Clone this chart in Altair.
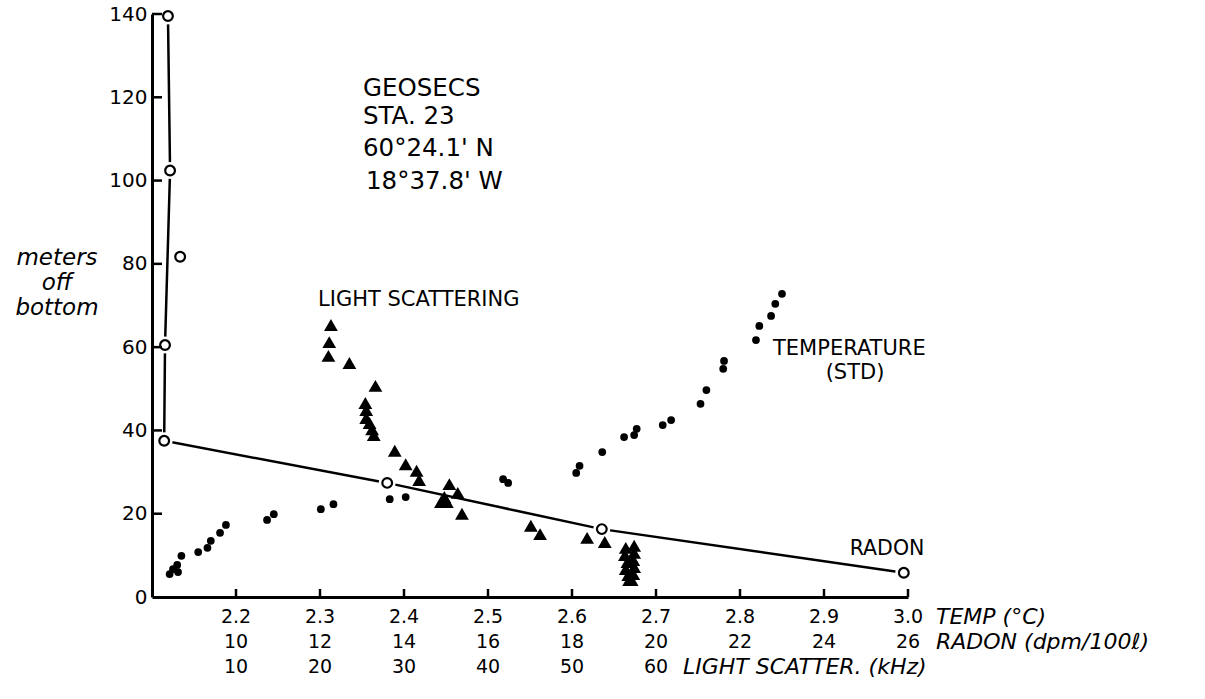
import altair as alt
import pandas as pd

# Temperature (STD) profile: degrees C against metres off bottom
temp_c = [2.121, 2.125, 2.130, 2.131, 2.135, 2.155, 2.166, 2.170, 2.181, 2.188,
          2.237, 2.245, 2.301, 2.316, 2.383, 2.402, 2.518, 2.524, 2.605, 2.609,
          2.636, 2.662, 2.674, 2.677, 2.708, 2.718, 2.753, 2.760, 2.780, 2.781,
          2.819, 2.823, 2.837, 2.842, 2.850]
temp_m = [5.5, 6.7, 7.7, 6.0, 9.9, 10.8, 11.8, 13.5, 15.4, 17.3,
          18.5, 19.9, 21.1, 22.3, 23.5, 24.0, 28.3, 27.4, 29.8, 31.5,
          34.8, 38.4, 38.9, 40.4, 41.3, 42.5, 46.4, 49.7, 54.8, 56.7,
          61.7, 65.1, 67.5, 70.4, 72.8]

# Light scattering profile: kHz against metres off bottom
light_khz = [21.3, 21.1, 21.0, 23.5, 26.6, 25.4, 25.5, 25.5, 25.9, 26.2,
             26.4, 28.9, 30.2, 31.5, 31.8, 35.4, 36.4, 34.4, 35.1, 34.8,
             36.9, 45.1, 46.2, 51.8, 53.9,
             56.4, 57.4, 56.3, 57.4, 56.6, 57.3, 56.4, 57.4, 56.7, 57.3, 56.8, 57.1]
light_m = [65.3, 61.2, 57.9, 56.2, 50.7, 46.6, 44.9, 43.0, 41.8, 40.3,
           38.9, 35.1, 31.9, 30.3, 28.1, 27.1, 25.0, 22.8, 22.8, 24.0,
           20.0, 17.1, 15.1, 14.2, 13.2,
           11.8, 12.3, 10.1, 10.6, 8.4, 8.9, 6.7, 7.2, 5.3, 5.5, 4.1, 4.1]

# Radon samples: dpm/100 l against metres off bottom
radon_dpm = [8.38, 8.43, 8.67, 8.31, 8.29, 13.60, 18.71, 25.90]
radon_m = [139.5, 102.4, 81.7, 60.5, 37.5, 27.4, 16.3, 5.8]

# Radon profile curve (passes inside the 80 m sample)
curve_dpm = [8.38, 8.43, 8.31, 8.29, 13.60, 18.71, 25.90]
curve_m = [139.5, 102.4, 60.5, 37.5, 27.4, 16.3, 5.8]

# Axis tick values and labels
depth_ticks = [0, 20, 40, 60, 80, 100, 120, 140]
temp_ticks = [2.2, 2.3, 2.4, 2.5, 2.6, 2.7, 2.8, 2.9, 3.0]
temp_labels = ["2.2", "2.3", "2.4", "2.5", "2.6", "2.7", "2.8", "2.9", "3.0"]
radon_ticks = [10, 12, 14, 16, 18, 20, 22, 24, 26]
radon_labels = ["10", "12", "14", "16", "18", "20", "22", "24", "26"]
light_ticks = [10, 20, 30, 40, 50, 60]
light_labels = ["10", "20", "30", "40", "50", "60"]

FONT = "DejaVu Sans"
W, H = 756, 583

xs = alt.Scale(domain=[2.1, 3.0], nice=False, zero=False)
ys = alt.Scale(domain=[0, 140], nice=False, zero=True)
x_axis = alt.Axis(title=None, labels=False, ticks=False, grid=False,
                  domainColor="black", domainWidth=3, zindex=1)
y_axis = alt.Axis(title=None, values=depth_ticks, ticks=False, grid=False,
                  domainColor="black", domainWidth=3, labelFont=FONT,
                  labelFontSize=20, labelColor="black", labelPadding=5, zindex=1)


def X(field):
    return alt.X(field, type="quantitative", scale=xs, axis=x_axis)


def Y(field):
    return alt.Y(field, type="quantitative", scale=ys, axis=y_axis)


# light scattering (kHz) and radon (dpm/100 l) share the temperature axis:
# 10 kHz and 10 dpm both sit at 2.2 degC
temp_df = pd.DataFrame({"t": temp_c, "m": temp_m})
light_df = pd.DataFrame({"khz": light_khz, "m": light_m})
radon_df = pd.DataFrame({"dpm": radon_dpm, "m": radon_m})
curve_df = pd.DataFrame({"dpm": curve_dpm, "m": curve_m, "k": range(len(curve_dpm))})

to_t_light = "2.1 + datum.khz / 100"
to_t_radon = "2.2 + (datum.dpm - 10) / 20"

curve = alt.Chart(curve_df).transform_calculate(t=to_t_radon).mark_line(
    color="black", strokeWidth=2.5
).encode(x=X("t"), y=Y("m"), order="k:Q")

halo = alt.Chart(radon_df).transform_calculate(t=to_t_radon).mark_point(
    shape="circle", filled=True, color="white", size=290, opacity=1
).encode(x=X("t"), y=Y("m"))

radon_pts = alt.Chart(radon_df).transform_calculate(t=to_t_radon).mark_point(
    shape="circle", filled=True, fill="white", stroke="black", strokeWidth=2.2,
    size=95, opacity=1
).encode(x=X("t"), y=Y("m"))

temp_pts = alt.Chart(temp_df).mark_point(
    shape="circle", filled=True, color="black", size=60, opacity=1
).encode(x=X("t"), y=Y("m"))

light_pts = alt.Chart(light_df).transform_calculate(t=to_t_light).mark_point(
    shape="triangle-up", filled=True, color="black", size=190, opacity=1
).encode(x=X("t"), y=Y("m"))

# inward tick marks on both axes
y_ticks = alt.Chart(pd.DataFrame({"m": depth_ticks[1:]})).mark_rule(
    color="black", strokeWidth=2.5
).encode(y=Y("m"), x=alt.value(0), x2=alt.value(10))

x_ticks = alt.Chart(pd.DataFrame({"t": temp_ticks})).mark_rule(
    color="black", strokeWidth=2.5
).encode(x=X("t"), y=alt.value(H), y2=alt.value(H - 8))


def tick_row(values, labels, expr, row_y):
    df = pd.DataFrame({"v": values, "lab": labels})
    return alt.Chart(df).transform_calculate(t=expr).mark_text(
        font=FONT, fontSize=19, color="black", align="center", baseline="middle"
    ).encode(x=X("t"), y=alt.value(row_y), text="lab:N")


row_temp = tick_row(temp_ticks, temp_labels, "datum.v", H + 20)
row_radon = tick_row(radon_ticks, radon_labels, "2.2 + (datum.v - 10) / 20", H + 45)
row_light = tick_row(light_ticks, light_labels, "2.1 + datum.v / 100", H + 70)


def label(text, x, y, size, italic=False, align="left"):
    return alt.Chart(pd.DataFrame({"a": [0]})).mark_text(
        text=text, font=FONT, fontSize=size, color="black", align=align,
        baseline="middle", fontStyle="italic" if italic else "normal"
    ).encode(x=alt.value(x), y=alt.value(y))


notes = [
    label("GEOSECS", 211, 75, 24.5),
    label("STA. 23", 211, 103, 24.5),
    label("60°24.1' N", 211, 135, 24.5),
    label("18°37.8' W", 214, 168, 24.5),
    label("LIGHT SCATTERING", 166, 286, 21),
    label("TEMPERATURE", 621, 335, 21),
    label("(STD)", 703, 359, 21, align="center"),
    label("RADON", 735, 535, 20.5, align="center"),
    label("meters", -95, 244, 23, italic=True, align="center"),
    label("off", -95, 269, 23, italic=True, align="center"),
    label("bottom", -95, 294, 23, italic=True, align="center"),
    label("TEMP (°C)", 784, H + 20, 22, italic=True),
    label("RADON (dpm/100ℓ)", 784, H + 45, 22, italic=True),
    label("LIGHT SCATTER. (kHz)", 531, H + 70, 22, italic=True),
]

chart = alt.layer(
    curve, halo, radon_pts, temp_pts, light_pts, y_ticks, x_ticks,
    row_temp, row_radon, row_light, *notes
).properties(
    width=W, height=H,
    autosize=alt.AutoSizeParams(type="none"),
    padding={"left": 152, "top": 14, "right": 297, "bottom": 102},
    background="white",
).configure_view(stroke=None)

chart.save("out.html", embed_options={"renderer": "svg", "actions": False})
